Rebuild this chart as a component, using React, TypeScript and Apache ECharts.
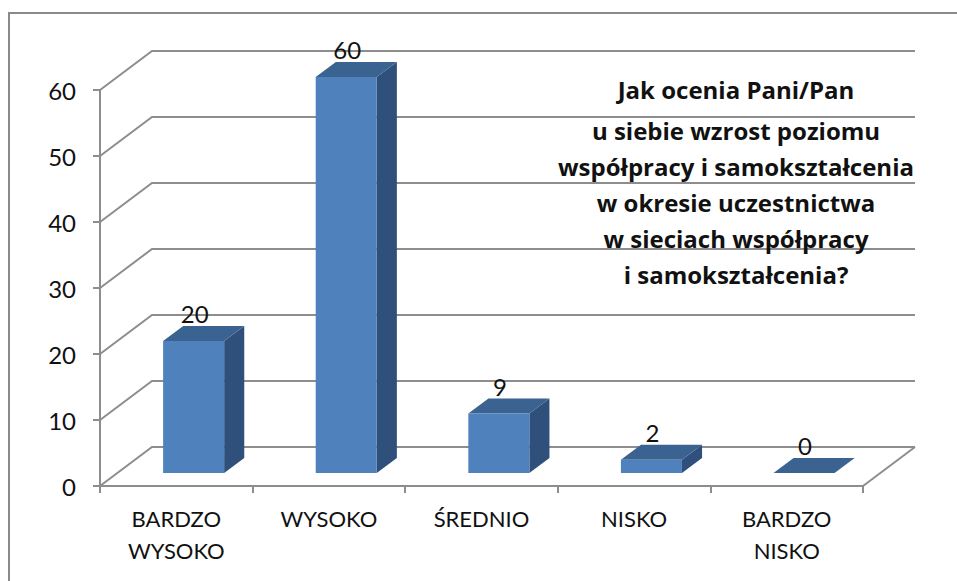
import React, { useEffect, useRef } from "react";
import * as echarts from "echarts";

const categories = ["BARDZO\nWYSOKO", "WYSOKO", "ŚREDNIO", "NISKO", "BARDZO\nNISKO"];
const values = [20, 60, 9, 2, 0];
const valueTicks = [0, 10, 20, 30, 40, 50, 60];
const titleLines = [
  "Jak ocenia Pani/Pan",
  "u siebie wzrost poziomu",
  "współpracy i samokształcenia",
  "w okresie uczestnictwa",
  "w sieciach współpracy",
  "i samokształcenia?",
];

// 3D projection constants (pixels)
const DEPTH_X = 52;
const DEPTH_Y = -39;
const FRONT = 1 / 3;
const BACK = 0.72;
const BAR_W = 0.4;

const GRID_COLOR = "#8d8d8d";
const FRONT_COLOR = "#4F81BD";
const TOP_COLOR = "#3B6392";
const SIDE_COLOR = "#30507C";
const FONT = "Lato, 'Open Sans', sans-serif";
const TITLE_FONT = "'Open Sans', Lato, sans-serif";

export default function App() {
  const ref = useRef<HTMLDivElement>(null);

  useEffect(() => {
    if (!ref.current) return;
    const chart = echarts.init(ref.current, undefined, { renderer: "svg" });

    const titleGraphics = titleLines.map((t, i) => ({
      type: "text",
      x: 736,
      y: i === 0 ? 89.5 : 130 + (i - 1) * 36,
      silent: true,
      z: 10,
      style: {
        text: t,
        align: "center",
        verticalAlign: "middle",
        fontFamily: TITLE_FONT,
        fontWeight: "bold",
        fontSize: 24,
        fill: "#111",
      },
    }));

    chart.setOption({
      animation: false,
      backgroundColor: "#ffffff",
      graphic: [
        {
          type: "rect",
          silent: true,
          shape: { x: 9, y: 13, width: 1000, height: 1000 },
          style: { fill: "none", stroke: "#8a8a8a", lineWidth: 2 },
        },
        ...titleGraphics,
      ],
      grid: { left: 100, right: 94, top: 90, bottom: 95, containLabel: false },
      xAxis: {
        type: "category",
        data: categories,
        boundaryGap: true,
        axisLine: { show: true, lineStyle: { color: GRID_COLOR, width: 2 } },
        axisTick: { show: true, interval: 0, length: 7, lineStyle: { color: GRID_COLOR, width: 2 } },
        axisLabel: {
          interval: 0,
          margin: 16,
          fontFamily: FONT,
          fontSize: 22,
          lineHeight: 32,
          color: "#111",
        },
        splitLine: { show: false },
      },
      yAxis: {
        type: "value",
        min: 0,
        max: 60,
        interval: 10,
        axisLine: { show: true, lineStyle: { color: GRID_COLOR, width: 2 } },
        axisTick: { show: true, length: 7, lineStyle: { color: GRID_COLOR, width: 2 } },
        axisLabel: { margin: 24, fontFamily: FONT, fontSize: 24, color: "#111" },
        splitLine: { show: false },
      },
      series: [
        {
          type: "custom",
          name: "walls",
          clip: false,
          silent: true,
          z: 1,
          data: valueTicks.map((v) => [0, v]),
          renderItem: (params: any, api: any) => {
            const cs = params.coordSys;
            const v = api.value(1);
            const y = api.coord([0, v])[1];
            const x0 = cs.x;
            const x1 = cs.x + cs.width;
            const children: any[] = [
              {
                type: "polyline",
                shape: {
                  points: [
                    [x0, y],
                    [x0 + DEPTH_X, y + DEPTH_Y],
                    [x1 + DEPTH_X, y + DEPTH_Y],
                  ],
                },
                style: { fill: "none", stroke: GRID_COLOR, lineWidth: 2 },
              },
            ];
            if (v === 0) {
              children.push({
                type: "line",
                shape: { x1: x1, y1: y, x2: x1 + DEPTH_X, y2: y + DEPTH_Y },
                style: { stroke: GRID_COLOR, lineWidth: 2 },
              });
            }
            return { type: "group", children };
          },
        },
        {
          type: "custom",
          name: "bars",
          clip: false,
          z: 5,
          data: values.map((v, i) => [i, v]),
          renderItem: (params: any, api: any) => {
            const i = api.value(0);
            const v = api.value(1);
            const base = api.coord([i, 0]);
            const top = api.coord([i, v]);
            const band = api.size([1, 0])[0];
            const w = band * BAR_W;
            const fdx = DEPTH_X * FRONT;
            const fdy = DEPTH_Y * FRONT;
            const bdx = DEPTH_X * (BACK - FRONT);
            const bdy = DEPTH_Y * (BACK - FRONT);
            const L = base[0] + fdx - w / 2;
            const R = L + w;
            const yb = base[1] + fdy;
            const yt = top[1] + fdy;
            const children: any[] = [];
            if (v > 0) {
              children.push({
                type: "polygon",
                shape: {
                  points: [
                    [R, yb],
                    [R, yt],
                    [R + bdx, yt + bdy],
                    [R + bdx, yb + bdy],
                  ],
                },
                style: { fill: SIDE_COLOR },
              });
            }
            children.push({
              type: "polygon",
              shape: {
                points: [
                  [L, yt],
                  [R, yt],
                  [R + bdx, yt + bdy],
                  [L + bdx, yt + bdy],
                ],
              },
              style: { fill: TOP_COLOR },
            });
            if (v > 0) {
              children.push({
                type: "rect",
                shape: { x: L, y: yt, width: w, height: yb - yt },
                style: { fill: FRONT_COLOR },
              });
            }
            children.push({
              type: "text",
              x: L + w / 2 + 1,
              y: yt + bdy - 12,
              style: {
                text: String(v),
                align: "center",
                verticalAlign: "middle",
                fontFamily: FONT,
                fontSize: 24,
                fill: "#111",
              },
            });
            return { type: "group", children };
          },
        },
      ],
    });

    return () => {
      chart.dispose();
    };
  }, []);

  return (
    <div
      ref={ref}
      style={{ position: "absolute", left: 0, top: 0, width: 957, height: 581 }}
    />
  );
}
